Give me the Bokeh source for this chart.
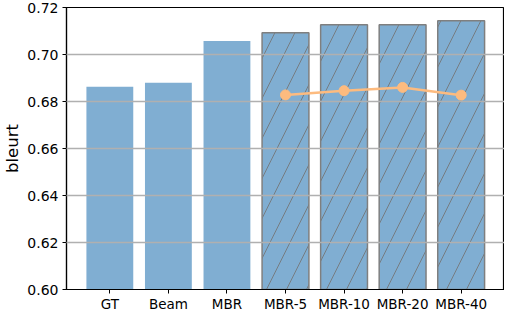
from bokeh.plotting import figure
from bokeh.models import FixedTicker, NumeralTickFormatter, Range1d, ColumnDataSource
from bokeh.embed import file_html
from bokeh.resources import INLINE

categories = ["GT", "Beam", "MBR", "MBR-5", "MBR-10", "MBR-20", "MBR-40"]
bar_values = [0.6863, 0.6880, 0.7057, 0.7093, 0.7127, 0.7127, 0.7144]
hatched = [False, False, False, True, True, True, True]
line_categories = ["MBR-5", "MBR-10", "MBR-20", "MBR-40"]
line_values = [0.6828, 0.6846, 0.6860, 0.6827]
y_ticks = [0.60, 0.62, 0.64, 0.66, 0.68, 0.70, 0.72]

FONT = "DejaVu Sans"
BAR = "#80aed2"
ORANGE = "#fdbb7f"

p = figure(x_range=categories, y_range=Range1d(0.60, 0.72),
           frame_width=438, frame_height=282, output_backend="svg", toolbar_location=None,
           min_border_left=0, min_border_right=0, min_border_top=7, min_border_bottom=0)
p.x_range.range_padding = 0.0686
p.x_range.range_padding_units = "percent"

plain_src = ColumnDataSource(dict(x=[c for c, h in zip(categories, hatched) if not h],
                                  top=[v for v, h in zip(bar_values, hatched) if not h]))
hatch_src = ColumnDataSource(dict(x=[c for c, h in zip(categories, hatched) if h],
                                  top=[v for v, h in zip(bar_values, hatched) if h]))

p.vbar(x="x", top="top", bottom=0.5, width=0.8, source=plain_src,
       fill_color=BAR, line_color=None)
p.vbar(x="x", top="top", bottom=0.5, width=0.8, source=hatch_src,
       fill_color=BAR, line_color="#7f7f7f", line_width=1.5,
       hatch_pattern="/", hatch_color="#737373", hatch_alpha=0.85,
       hatch_scale=40, hatch_weight=1)

p.line(line_categories, line_values, line_color=ORANGE, line_width=2.5)
p.scatter(line_categories, line_values, size=10, fill_color=ORANGE, line_color=ORANGE)

p.ygrid.ticker = FixedTicker(ticks=y_ticks)
p.ygrid.grid_line_color = "#b0b0b0"
p.ygrid.grid_line_width = 1.3
p.ygrid.level = "annotation"
p.xgrid.grid_line_color = None

p.outline_line_color = "black"
p.outline_line_width = 1.2
p.background_fill_color = "white"

p.yaxis.ticker = FixedTicker(ticks=y_ticks)
p.yaxis.formatter = NumeralTickFormatter(format="0.00")
p.yaxis.axis_label = "bleurt"
p.yaxis.axis_label_text_font = FONT
p.yaxis.axis_label_text_font_size = "16.5px"
p.yaxis.axis_label_text_font_style = "normal"
p.yaxis.axis_label_text_color = "black"
p.yaxis.axis_label_standoff = 2
p.yaxis.major_label_text_font = FONT
p.yaxis.major_label_text_font_size = "14px"
p.yaxis.major_label_text_color = "black"
p.yaxis.major_label_standoff = 4
p.yaxis.minor_tick_line_color = None
p.yaxis.major_tick_out = 4
p.yaxis.major_tick_in = 0

p.xaxis.major_label_text_font = FONT
p.xaxis.major_label_text_font_size = "13.5px"
p.xaxis.major_label_text_color = "black"
p.xaxis.major_tick_out = 4
p.xaxis.major_tick_in = 0
p.xaxis.major_label_standoff = 2

for ax in (p.xaxis[0], p.yaxis[0]):
    ax.axis_line_color = "black"
    ax.axis_line_width = 1.2
    ax.major_tick_line_color = "black"

open("out.html", "w").write(file_html(p, INLINE))
